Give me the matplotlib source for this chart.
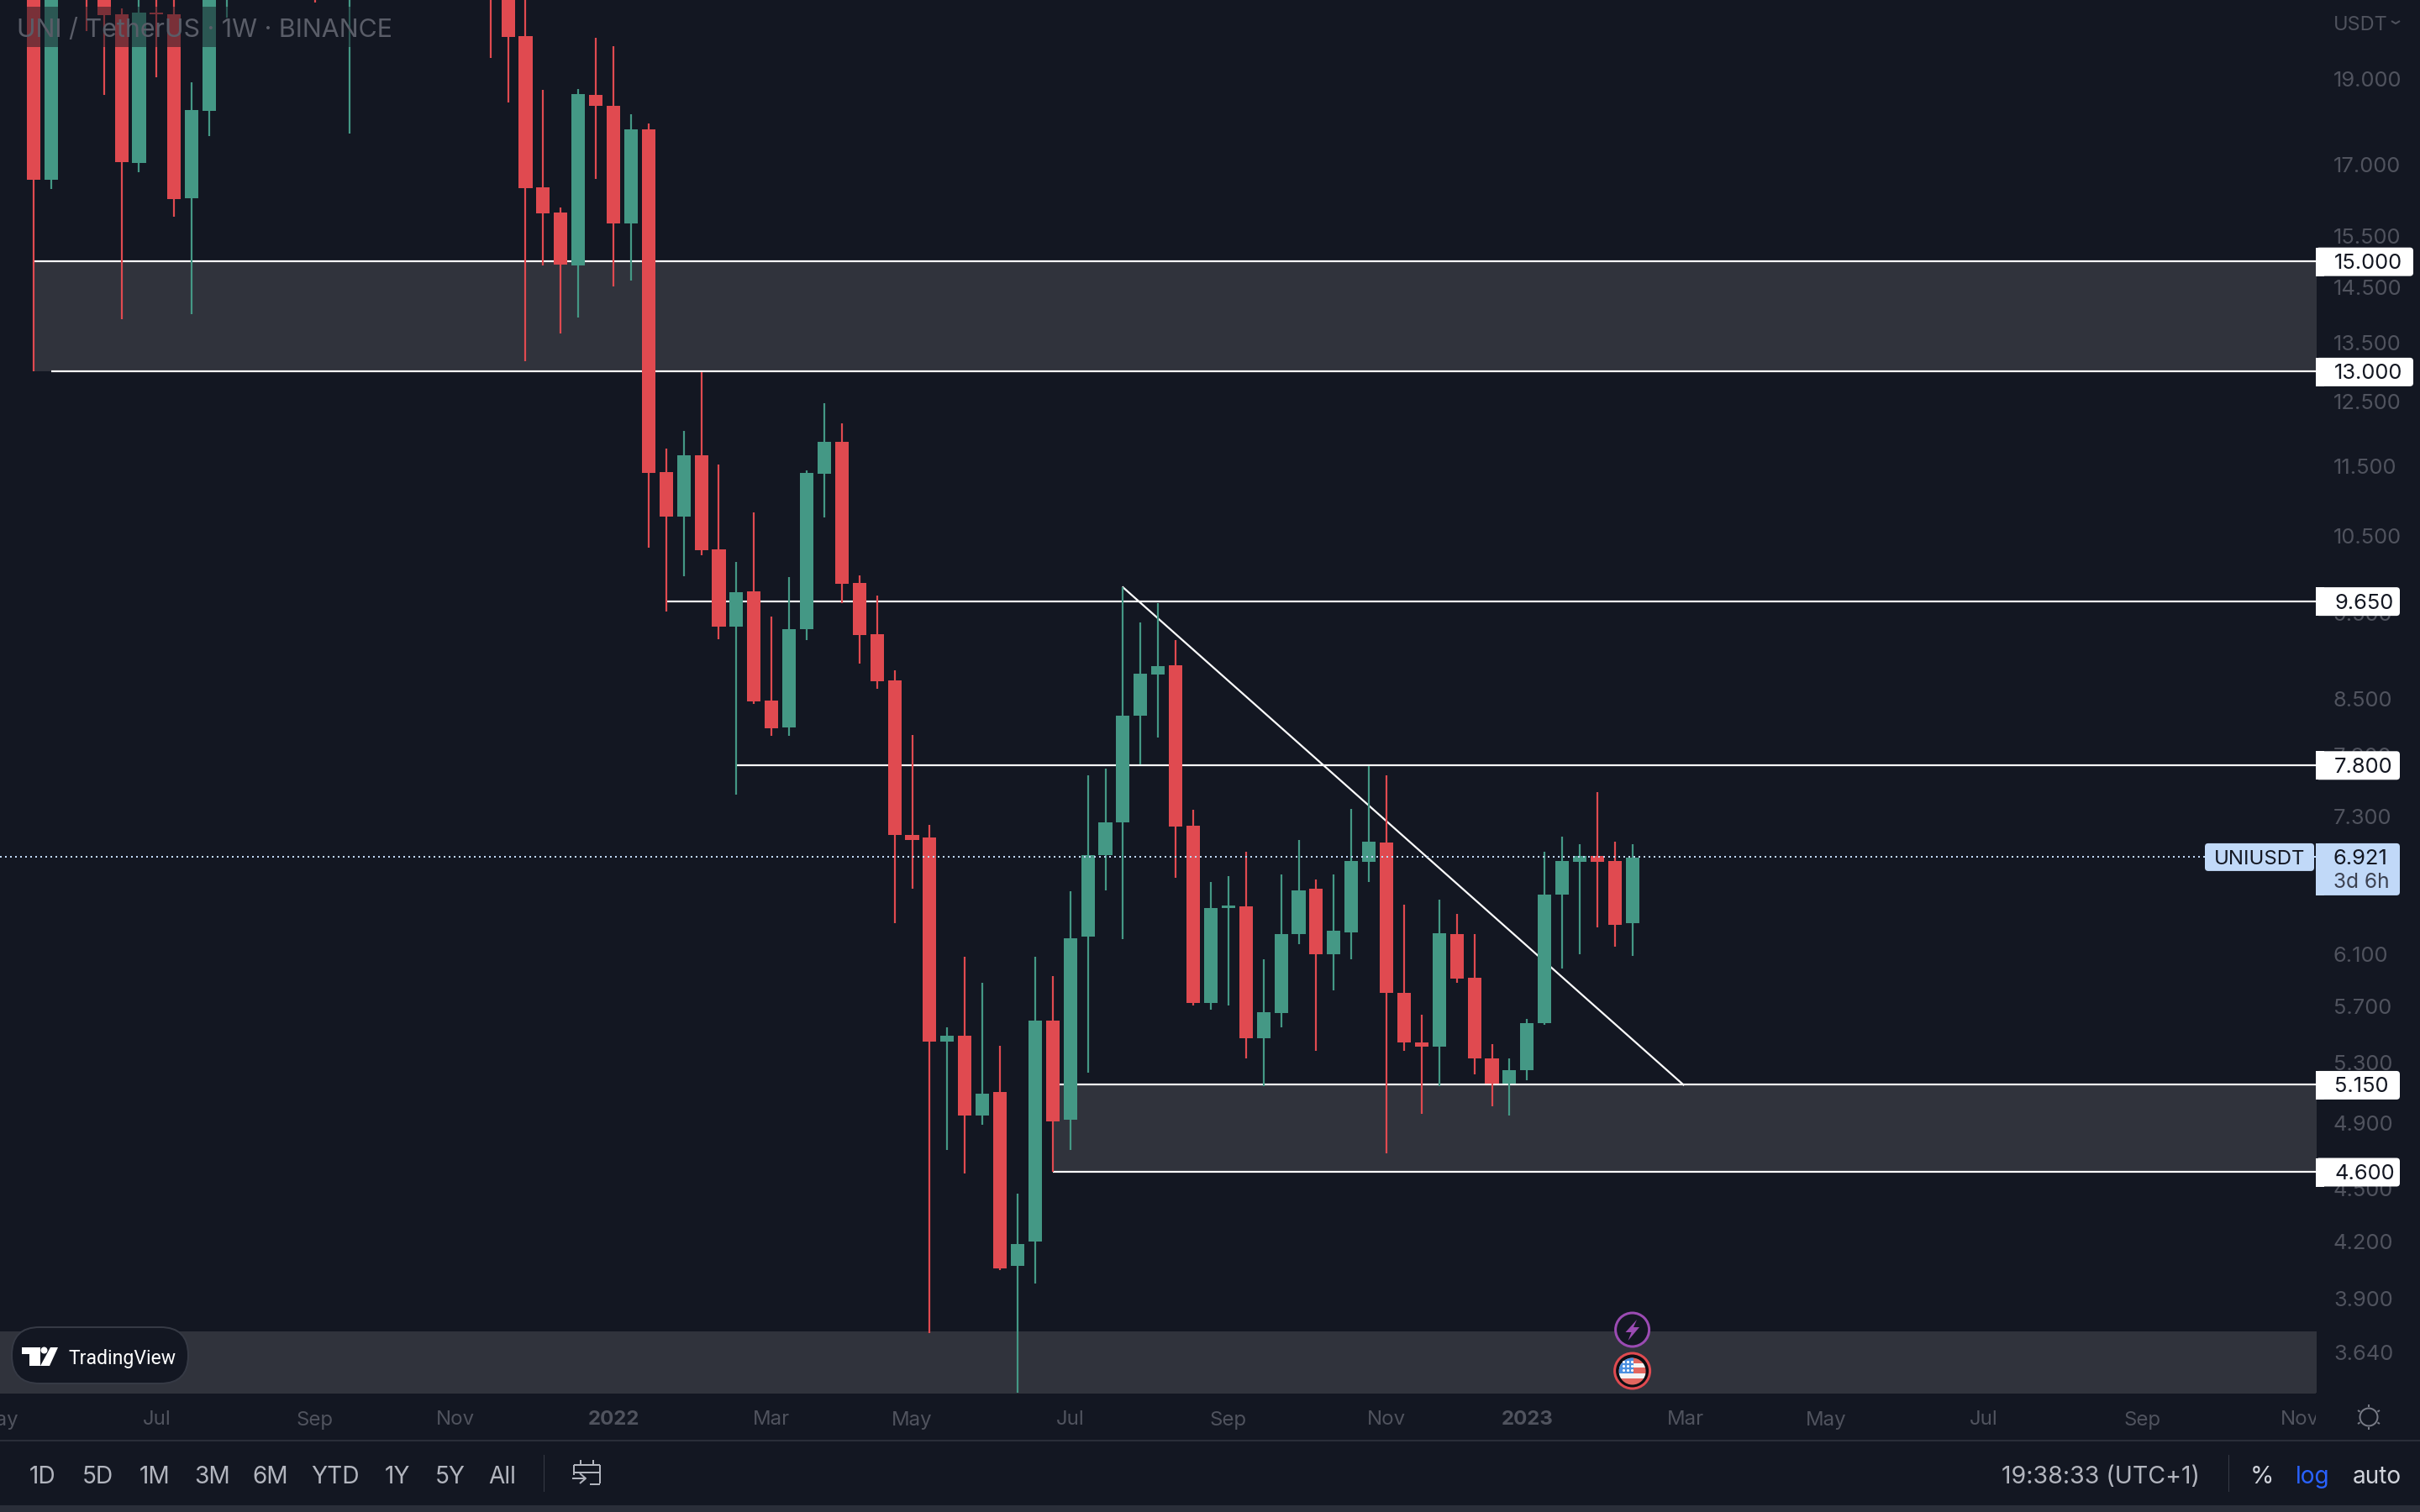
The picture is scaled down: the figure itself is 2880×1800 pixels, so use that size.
import matplotlib
matplotlib.use("Agg")
import matplotlib.pyplot as plt
from matplotlib.patches import Rectangle, FancyBboxPatch, Circle, Polygon
from matplotlib.transforms import blended_transform_factory

# weekly candles (values above 21 are off screen, rough guesses)
opens = [25.0, 16.68, 24.0, 26.0, 24.5, 20.68, 17.04, 20.72, 20.68, 16.28,
         18.24, 23.0, 25.0, 23.5, 24.5, 26.0, 25.0, 23.0, 24.0, 26.0,
         28.0, 25.0, 27.0, 25.5, 24.0, 26.0, 23.0, 21.8, 20.1, 16.52,
         15.98, 14.92, 18.62, 18.36, 15.76, 17.8, 11.41, 10.77, 11.66, 10.32,
         9.34, 9.77, 8.48, 8.19, 9.31, 11.39, 11.87, 9.88, 9.24, 8.71,
         7.12, 7.1, 5.45, 5.49, 4.95, 5.1, 4.07, 4.2, 5.6, 4.92,
         6.24, 6.94, 7.24, 8.32, 8.77, 8.88, 7.21, 5.73, 6.48, 6.49,
         5.47, 5.65, 6.26, 6.64, 6.1, 6.28, 6.88, 7.05, 5.8, 5.44,
         5.41, 6.26, 5.92, 5.33, 5.16, 5.25, 5.58, 6.59, 6.88, 6.93,
         6.89, 6.35]
highs = [28.0, 26.0, 28.0, 28.5, 25.5, 20.83, 22.0, 22.5, 22.0, 18.92,
         24.0, 26.0, 27.0, 25.0, 27.5, 29.0, 26.5, 27.0, 27.0, 29.0,
         30.0, 28.0, 29.0, 27.0, 26.5, 27.5, 24.0, 22.5, 22.0, 18.74,
         16.09, 18.76, 20.05, 19.83, 18.16, 17.94, 11.77, 12.04, 12.99, 11.52,
         10.15, 10.83, 9.46, 9.96, 11.44, 12.48, 12.16, 9.98, 9.72, 8.82,
         8.11, 7.22, 5.55, 6.08, 5.88, 5.42, 4.47, 6.08, 5.93, 6.62,
         7.7, 7.76, 9.83, 9.39, 9.62, 9.17, 7.36, 6.7, 6.75, 6.97,
         6.06, 6.77, 7.08, 6.72, 6.77, 7.37, 7.79, 7.7, 6.51, 5.64,
         6.55, 6.43, 6.26, 5.43, 5.33, 5.61, 6.97, 7.11, 7.04, 7.53,
         7.06, 7.04]
lows = [13.0, 16.48, 22.8, 20.22, 18.61, 13.92, 16.84, 19.05, 15.9, 14.01,
        17.65, 20.59, 22.5, 22.2, 23.0, 24.0, 20.98, 22.5, 17.71, 25.0,
        24.0, 23.5, 24.5, 23.0, 22.5, 22.0, 19.54, 18.44, 13.17, 14.92,
        13.66, 13.95, 16.7, 14.52, 14.63, 10.34, 9.52, 9.97, 10.24, 9.18,
        7.51, 8.44, 8.1, 8.1, 9.17, 10.76, 9.62, 8.9, 8.61, 6.35,
        6.64, 3.73, 4.73, 4.59, 4.89, 4.05, 3.45, 3.98, 4.6, 4.73,
        5.23, 6.63, 6.22, 7.81, 8.08, 6.74, 5.71, 5.68, 5.71, 5.33,
        5.14, 5.55, 6.18, 5.38, 5.82, 6.06, 6.7, 4.71, 5.38, 4.96,
        5.14, 5.88, 5.22, 5.01, 4.95, 5.18, 5.57, 5.99, 6.1, 6.32,
        6.16, 6.09]
closes = [16.68, 24.0, 26.0, 24.5, 20.65, 17.06, 20.72, 20.68, 16.27, 18.26,
          23.0, 25.0, 23.5, 24.5, 26.0, 25.0, 23.0, 24.0, 26.0, 28.0,
          25.0, 27.0, 25.5, 24.0, 26.0, 23.0, 21.8, 20.07, 16.5, 15.96,
          14.94, 18.64, 18.36, 15.76, 17.8, 11.4, 10.77, 11.66, 10.31, 9.34,
          9.76, 8.47, 8.18, 9.31, 11.4, 11.87, 9.87, 9.23, 8.7, 7.12,
          7.08, 5.45, 5.49, 4.95, 5.09, 4.06, 4.19, 5.6, 4.91, 6.23,
          6.94, 7.24, 8.32, 8.78, 8.87, 7.2, 5.73, 6.48, 6.5, 5.47,
          5.66, 6.26, 6.63, 6.1, 6.29, 6.89, 7.06, 5.8, 5.44, 5.41,
          6.27, 5.91, 5.33, 5.16, 5.25, 5.58, 6.59, 6.89, 6.93, 6.88,
          6.34, 6.92]

# horizontal zones and levels drawn on the chart
zone_lows = [13.0, 4.6, 3.3]
zone_highs = [15.0, 5.15, 3.74]
zone_starts = [0, 58, -2]
levels = [15.0, 13.0, 9.65, 7.8, 5.15, 4.6]
level_starts = [0, 1, 36, 40, 58, 58]
level_labels = ["15.000", "13.000", "9.650", "7.800", "5.150", "4.600"]
trend_x = [62, 93.9]
trend_y = [9.825, 5.15]
last_price = 6.921

price_ticks = [19.0, 17.0, 15.5, 14.5, 13.5, 12.5, 11.5, 10.5, 9.5, 8.5, 7.9, 7.3,
               6.7, 6.1, 5.7, 5.3, 4.9, 4.5, 4.2, 3.9, 3.64]
price_labels = ["19.000", "17.000", "15.500", "14.500", "13.500", "12.500", "11.500",
                "10.500", "9.500", "8.500", "7.900", "7.300", "6.700", "6.100", "5.700",
                "5.300", "4.900", "4.500", "4.200", "3.900", "3.640"]
month_pos = [-2, 7, 16, 24, 33, 42, 50, 59, 68, 77, 85, 94, 102, 111, 120, 129]
month_names = ["May", "Jul", "Sep", "Nov", "2022", "Mar", "May", "Jul", "Sep", "Nov",
               "2023", "Mar", "May", "Jul", "Sep", "Nov"]
range_buttons = ["1D", "5D", "1M", "3M", "6M", "YTD", "1Y", "5Y", "All"]
range_centers = [51, 116, 184, 253, 322, 399, 473, 536, 598]

BG = "#131722"
RED = "#e04a50"
GREEN = "#449885"
ZONE = "#30333c"
GREY = "#50535e"
TAG_BLUE = "#c1d9f8"
FONT = "Inter"
W, H = 2880, 1800
PANE_W, PANE_H = 2756, 1658


def px(size):
    return size * 0.72


plt.rcParams["font.family"] = [FONT, "DejaVu Sans"]
fig = plt.figure(figsize=(W / 100, H / 100), dpi=100, facecolor=BG)
ax = fig.add_axes([0, (H - PANE_H) / H, PANE_W / W, PANE_H / H])
ax.set_facecolor(BG)
ax.set_zorder(1)
for s in ax.spines.values():
    s.set_visible(False)

ax.set_yscale("log")
ax.set_ylim(3.453, 21.06)
ax.set_xlim(-1.913, 129.89)

# zones and levels sit behind the candles
for lo, hi, st in zip(zone_lows, zone_highs, zone_starts):
    ax.fill_between([st, 131], lo, hi, color=ZONE, linewidth=0, zorder=1)
for lev, st in zip(levels, level_starts):
    ax.plot([st, 131], [lev, lev], color="white", lw=px(2.2), zorder=2, solid_capstyle="butt")
ax.plot(trend_x, trend_y, color="white", lw=px(2.2), zorder=2)

idx = list(range(len(opens)))
colors = [GREEN if c >= o else RED for o, c in zip(opens, closes)]
ax.vlines(idx, lows, highs, colors=colors, lw=px(2.2), zorder=3)
body_low = [min(o, c) for o, c in zip(opens, closes)]
body_h = [abs(o - c) for o, c in zip(opens, closes)]
ax.bar(idx, body_h, bottom=body_low, width=0.77, color=colors, linewidth=0, zorder=3)

ax.axhline(last_price, color=TAG_BLUE, lw=px(2), linestyle=(0, (1, 2)), zorder=4)

# price scale
ax.yaxis.tick_right()
ax.set_yticks(price_ticks)
ax.set_yticklabels(price_labels, fontsize=px(25.5), color=GREY)
ax.minorticks_off()
ax.tick_params(axis="y", which="both", length=0, pad=px(21))
ax.set_xticks([])

# time scale
trans = blended_transform_factory(ax.transData, ax.transAxes)
for pos, name in zip(month_pos, month_names):
    ax.text(pos, -30 / PANE_H, name, transform=trans, ha="center", va="center_baseline", fontsize=px(24),
            color=GREY, clip_on=False, fontweight="bold" if name.startswith("20") else "normal")

# everything else is drawn in pixel coordinates on top
ov = fig.add_axes([0, 0, 1, 1])
ov.set_xlim(0, W)
ov.set_ylim(H, 0)
ov.axis("off")
ov.set_zorder(5)


def price_y(price):
    return H - ax.transData.transform((0, price))[1]


def rect(x0, y0, x1, y1, color, **kw):
    ov.add_patch(Rectangle((x0, y0), x1 - x0, y1 - y0, facecolor=color, linewidth=0, **kw))


def tag(x0, y0, x1, y1, color):
    ov.add_patch(FancyBboxPatch((x0, y0), x1 - x0, y1 - y0, boxstyle="round,pad=0,rounding_size=4",
                                facecolor=color, linewidth=0))


def seg(xs, ys, color, lw=2):
    ov.plot(xs, ys, color=color, lw=px(lw), solid_capstyle="butt")


# cover the time labels past the pane edge
rect(PANE_W, PANE_H, W, 1714, BG)

# legend band and watermark
rect(0, 8, 480, 56, BG, alpha=0.5)
ov.text(20, 33, "UNI / TetherUS · 1W · BINANCE", fontsize=px(30.4), color="#5a5d68", ha="left", va="center_baseline")

ov.text(2777, 27, "USDT", fontsize=px(23.5), color=GREY, ha="left", va="center_baseline")
seg([2846, 2851, 2856], [25, 28, 25], GREY, 2)

# level tags
for lev, lab in zip(levels, level_labels):
    y = price_y(lev)
    right = 2872 if len(lab) == 6 else 2856
    tag(2756, y - 16.5, right, y + 17.5, "white")
    rect(2756, y - 16.5, 2766, y + 17.5, "white")
    ov.text(2778, y, lab, fontsize=px(25.5), color="#131722", ha="left", va="center_baseline")

# last price tags
y = price_y(last_price)
tag(2624, y - 16.5, 2754, y + 16.5, TAG_BLUE)
ov.text(2689, y, "UNIUSDT", fontsize=px(24), color="#131722", ha="center", va="center_baseline")
tag(2756, y - 16.5, 2856, y + 45.5, TAG_BLUE)
rect(2756, y - 16.5, 2766, y + 45.5, TAG_BLUE)
ov.text(2777, y, "6.921", fontsize=px(25.5), color="#131722", ha="left", va="center_baseline")
ov.text(2777, y + 28, "3d 6h", fontsize=px(24.5), color="#3c4150", ha="left", va="center_baseline")

# TradingView badge
ov.add_patch(FancyBboxPatch((14, 1580), 210, 67, boxstyle="round,pad=0,rounding_size=33",
                            facecolor=BG, edgecolor="#363a45", linewidth=px(2)))
rect(26, 1604, 48, 1612, "white")
rect(35, 1604, 48, 1626, "white")
ov.add_patch(Circle((52.5, 1607.5), 4, facecolor="white", linewidth=0))
ov.add_patch(Polygon([(60, 1604), (69, 1604), (59, 1626), (48, 1626)], facecolor="white", linewidth=0))
ov.text(81, 1615, "TradingView", fontsize=px(23), color="white", ha="left", va="center_baseline", family="Roboto")

# event icons on the last candle
ex = 1942.6
ov.add_patch(Circle((ex, 1583), 20, facecolor=BG, edgecolor="#9b4bb3", linewidth=px(3)))
ov.add_patch(Polygon([(1948, 1571), (1934.5, 1586), (1941.5, 1586), (1937.5, 1596), (1951, 1580), (1944, 1580)],
                     facecolor="#9b4bb3", linewidth=0))
ov.add_patch(Circle((ex, 1632), 21, facecolor="#0c0e13", edgecolor=RED, linewidth=px(3)))
flag_clip = Circle((ex, 1632.5), 16, transform=ov.transData)
stripes = [(1616, 1623, "#e2665f"), (1623, 1628, "#f4f4f4"), (1628, 1635, "#e2665f"),
           (1635, 1641, "#f4f4f4"), (1641, 1650, "#e2665f")]
for y0, y1, c in stripes:
    r = Rectangle((ex - 17, y0), 34, y1 - y0, facecolor=c, linewidth=0)
    ov.add_patch(r)
    r.set_clip_path(flag_clip)
r = Rectangle((ex - 17, 1616), 18, 19, facecolor="#4a8fe0", linewidth=0)
ov.add_patch(r)
r.set_clip_path(flag_clip)
for sy in [1621, 1626, 1631]:
    ov.scatter([ex - 11, ex - 6, ex - 1], [sy, sy, sy], s=5, color="white", linewidths=0)

# sun icon for the theme switch
sx, sy = 2819, 1687
ov.add_patch(Circle((sx, sy), 10.5, facecolor="none", edgecolor="#787b86", linewidth=px(2)))
for dx, dy in [(0, -15), (0, 15), (-13, -8), (13, -8), (-13, 8), (13, 8)]:
    seg([sx + dx * 0.8, sx + dx], [sy + dy * 0.8, sy + dy], "#787b86", 2)

# bottom toolbar
rect(0, 1714, W, 1716, "#2a2e39")
rect(0, 1792, W, H, "#2a2e39")
for cx, lab in zip(range_centers, range_buttons):
    ov.text(cx, 1755, lab, fontsize=px(28), color="#b2b5be", ha="center", va="center_baseline")
rect(646.5, 1732, 648, 1776, "#363a45")
rect(2651.5, 1732, 2653, 1776, "#363a45")

# calendar icon
cal = "#b2b5be"
seg([683, 683], [1744, 1756], cal)
seg([683, 714], [1744, 1744], cal)
seg([714, 714], [1744, 1766], cal)
seg([683, 714], [1753, 1753], cal)
seg([702, 714], [1767, 1767], cal)
seg([691, 691], [1738, 1744], cal)
seg([706, 706], [1738, 1744], cal)
seg([681, 697], [1760, 1760], cal)
seg([690, 697, 690], [1754, 1760, 1766], cal)

ov.text(2500, 1755, "19:38:33 (UTC+1)", fontsize=px(28.5), color="#b2b5be", ha="center", va="center_baseline")
ov.text(2692, 1755, "%", fontsize=px(29), color="#d1d4dc", ha="center", va="center_baseline")
ov.text(2752.5, 1755, "log", fontsize=px(28), color="#2962ff", ha="center", va="center_baseline")
ov.text(2829, 1755, "auto", fontsize=px(28), color="#d1d4dc", ha="center", va="center_baseline")

fig.savefig("out.png", dpi=100, facecolor=BG)
